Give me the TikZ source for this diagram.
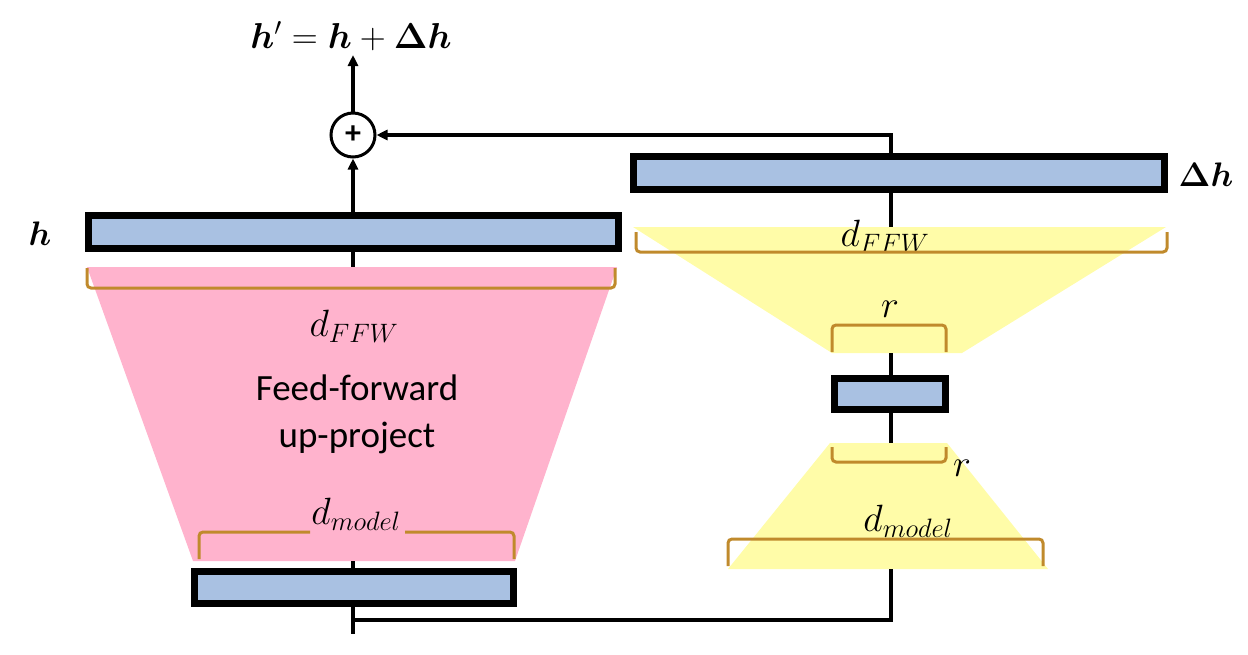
\RequirePackage{fix-cm}
\documentclass[tikz,border=0pt]{standalone}
\usepackage{amsmath,bm}
\usepackage{fontspec}
\newfontfamily\calibri{Carlito}
\usetikzlibrary{arrows.meta}
\definecolor{boxblue}{HTML}{A9C1E2}
\definecolor{pinkfill}{HTML}{FFB3CD}
\definecolor{yellowfill}{HTML}{FFFCA8}
\definecolor{brk}{HTML}{C08A2C}
\tikzset{
  vec/.style={draw=black, line width=7pt, fill=boxblue, inner sep=0pt},
  conn/.style={draw=black, line width=3.2pt},
  arr/.style={conn, -{Triangle[length=11pt,width=10pt]}},
  brace/.style={draw=brk, line width=3pt, rounded corners=4pt},
  mlabel/.style={inner sep=0pt, font=\fontsize{38}{44}\selectfont},
  boldlabel/.style={inner sep=0pt, font=\fontsize{34}{40}\selectfont},
  biglabel/.style={inner sep=0pt, font=\fontsize{36}{42}\selectfont},
  sans/.style={inner sep=0pt, align=center, font=\calibri\fontsize{37}{47}\selectfont}
}
\begin{document}
\begin{tikzpicture}[x=1pt,y=-1pt]
\useasboundingbox (0,0) rectangle (1248,654);
% trapezoids
\fill[pinkfill] (87,267) -- (617,267) -- (515,561) -- (193,561) -- cycle;
\fill[yellowfill] (633,227) -- (1166,227) -- (962,353) -- (832,353) -- cycle;
\fill[yellowfill] (830,443) -- (947,443) -- (1048,569) -- (728,569) -- cycle;
% boxes
\node[vec, minimum width=530pt, minimum height=33pt] (h) at (353,232) {};
\node[vec, minimum width=319pt, minimum height=32pt] (bot) at (354,587.5) {};
\node[vec, minimum width=531pt, minimum height=33pt] (dh) at (899,173) {};
\node[vec, minimum width=111pt, minimum height=31pt] (small) at (890,394) {};
% plus
\node[circle, draw=black, line width=3pt, minimum size=44pt, inner sep=0pt,
      font=\calibri\bfseries\fontsize{32}{32}\selectfont] (plus) at (353,135) {+};
% labels
\node[biglabel] (out) at (351,36) {$\bm{h}'=\bm{h}+\bm{\Delta}\bm{h}$};
\node[boldlabel] (hl) at (40,234) {$\bm{h}$};
\node[boldlabel] (dhl) at (1206,175) {$\bm{\Delta}\bm{h}$};
\node[mlabel] (ffwL) at (354,326) {$d_{FFW}$};
\node[mlabel] (modL) at (356,514) {$d_{model}$};
\node[mlabel] (ffwR) at (885,236) {$d_{FFW}$};
\node[mlabel] (r1) at (890,309) {$r$};
\node[mlabel] (r2) at (962,468) {$r$};
\node[mlabel] (modR) at (908,521) {$d_{model}$};
\node[sans] (ff) at (357,414) {Feed-forward\\up-project};
% coordinates
\coordinate (outtip) at (353,55);
\coordinate (pinktop) at (353,267);
\coordinate (pinkbot) at (353,561);
\coordinate (botend) at (353,634);
\coordinate (yt) at (891,227);
\coordinate (yb1) at (891,353);
\coordinate (yb2) at (891,443);
\coordinate (yb3) at (891,569);
\coordinate (corner) at (891,620);
% brackets
\draw[brace] (636,232) -- (636,252) -- (1167,252) -- (1167,232);
\draw[brace] (87,268) -- (87,288) -- (615,288) -- (615,268);
\draw[brace] (199,559) -- (199,532) -- (310,532);
\draw[brace] (405,532) -- (514,532) -- (514,559);
\draw[brace] (832,352) -- (832,325) -- (946,325) -- (946,352);
\draw[brace] (832,447) -- (832,462) -- (946,462) -- (946,447);
\draw[brace] (728,566) -- (728,539) -- (1043,539) -- (1043,566);
% connectors
\draw[arr] (plus.north) -- (outtip);
\draw[arr] (plus.south |- h.north) -- (plus.south);
\draw[arr] (yt |- dh.north) -- (yt |- plus.east) -- (plus.east);
\draw[conn] (pinktop |- h.south) -- (pinktop);
\draw[conn] (pinkbot) -- (pinkbot |- bot.north);
\draw[conn] (botend |- bot.south) -- (botend);
\draw[conn] (yt |- dh.south) -- (yt);
\draw[conn] (yb1) -- (yb1 |- small.north);
\draw[conn] (yb1 |- small.south) -- (yb2);
\draw[conn] (yb3) -- (corner) -- (corner -| botend);
\end{tikzpicture}
\end{document}
